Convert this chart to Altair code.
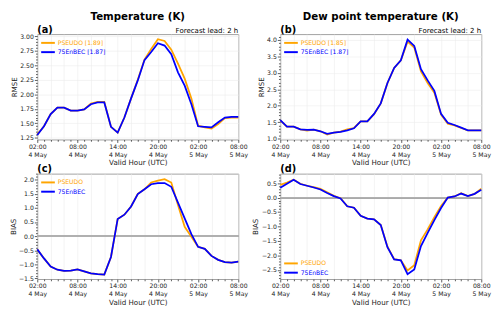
import altair as alt
import pandas as pd
import numpy as np

hours = list(range(31))
x_major_labels = ["02:00", "08:00", "14:00", "20:00"]

# (a) Temperature RMSE
a_pseudo = [1.31, 1.45, 1.66, 1.77, 1.77, 1.72, 1.72, 1.74, 1.84, 1.87, 1.87, 1.44, 1.34, 1.60, 1.93, 2.25,
            2.60, 2.78, 2.95, 2.92, 2.77, 2.53, 2.27, 1.93, 1.46, 1.43, 1.41, 1.49, 1.59, 1.60, 1.60]
a_enbec = [1.30, 1.45, 1.66, 1.77, 1.77, 1.72, 1.72, 1.74, 1.83, 1.86, 1.86, 1.44, 1.34, 1.60, 1.93, 2.24,
           2.59, 2.73, 2.88, 2.84, 2.69, 2.38, 2.15, 1.83, 1.45, 1.44, 1.43, 1.52, 1.60, 1.61, 1.61]
# (b) Dew point RMSE
b_pseudo = [1.55, 1.36, 1.36, 1.28, 1.24, 1.27, 1.22, 1.12, 1.18, 1.21, 1.28, 1.32, 1.52, 1.52, 1.74, 2.07,
            2.69, 3.15, 3.38, 3.95, 3.77, 3.04, 2.69, 2.39, 1.73, 1.45, 1.40, 1.32, 1.25, 1.25, 1.25]
b_enbec = [1.56, 1.36, 1.36, 1.28, 1.26, 1.27, 1.22, 1.14, 1.18, 1.20, 1.25, 1.31, 1.52, 1.52, 1.75, 2.07,
           2.69, 3.15, 3.38, 4.01, 3.82, 3.11, 2.77, 2.45, 1.75, 1.48, 1.41, 1.33, 1.25, 1.25, 1.25]
# (c) Temperature BIAS
c_pseudo = [-0.47, -0.79, -1.08, -1.19, -1.23, -1.22, -1.18, -1.25, -1.32, -1.35, -1.36, -0.74, 0.61, 0.76,
            1.05, 1.50, 1.66, 1.90, 1.97, 2.02, 1.90, 1.10, 0.33, -0.02, -0.38, -0.45, -0.70, -0.84, -0.92,
            -0.94, -0.90]
c_enbec = [-0.47, -0.79, -1.08, -1.19, -1.23, -1.22, -1.18, -1.25, -1.32, -1.35, -1.36, -0.74, 0.61, 0.76,
           1.05, 1.49, 1.66, 1.84, 1.88, 1.88, 1.75, 1.19, 0.63, 0.07, -0.38, -0.45, -0.70, -0.84, -0.92,
           -0.94, -0.90]
# (d) Dew point BIAS
d_pseudo = [0.44, 0.52, 0.62, 0.48, 0.41, 0.36, 0.30, 0.18, 0.06, -0.02, -0.30, -0.35, -0.63, -0.73, -0.75,
            -0.95, -1.70, -2.13, -2.17, -2.52, -2.34, -1.48, -1.10, -0.68, -0.29, 0.00, 0.04, 0.15, 0.05,
            0.13, 0.31]
d_enbec = [0.34, 0.48, 0.62, 0.47, 0.41, 0.35, 0.28, 0.16, 0.05, -0.03, -0.30, -0.35, -0.63, -0.73, -0.75,
           -0.95, -1.72, -2.14, -2.17, -2.65, -2.49, -1.68, -1.22, -0.78, -0.36, 0.00, 0.04, 0.14, 0.05,
           0.13, 0.27]

ORANGE = "#FFA500"
BLUE = "#0000FF"
W, H = 206, 108
FONT = "DejaVu Sans"


def y_axis(title, lo, hi, major, minor, fmt):
    factor = 1.0 / major
    vals = [float(v) for v in np.round(np.arange(np.ceil(lo / minor - 1e-9) * minor, hi + 1e-9, minor), 4)]
    test = "abs(datum.value*%g - round(datum.value*%g)) < 0.001" % (factor, factor)
    return alt.Axis(
        title=title, values=vals,
        labelExpr="%s ? format(datum.value, '%s') : ''" % (test, fmt),
        tickSize={"condition": {"test": test, "value": 3}, "value": 1.8},
        gridOpacity={"condition": {"test": test, "value": 1}, "value": 0},
        labelOverlap=False, labelFlush=False,
    )


x_axis = alt.Axis(
    title="Valid Hour (UTC)", values=hours,
    labelExpr="datum.value % 6 == 0 ? [['02:00','08:00','14:00','20:00'][(datum.value/6)%4], "
              "datum.value < 22 ? '4 May' : '5 May'] : ''",
    tickSize={"condition": {"test": "datum.value % 6 == 0", "value": 3}, "value": 1.8},
    gridOpacity={"condition": {"test": "datum.value % 2 == 0", "value": 1}, "value": 0},
    labelOverlap=False, labelFlush=False,
)


def text_layer(txt, x, y, align, size, weight="normal"):
    return alt.Chart(pd.DataFrame({"t": [txt]})).mark_text(
        align=align, baseline="alphabetic", fontSize=size, fontWeight=weight, font=FONT, color="black"
    ).encode(text="t:N", x=alt.value(x), y=alt.value(y))


def panel(pseudo, enbec, names, ytitle, ydom, major, minor, fmt, label,
          title=None, zero=False, legend_y=4):
    df = pd.DataFrame({
        "hour": hours * 2,
        "value": pseudo + enbec,
        "series": [names[0]] * len(hours) + [names[1]] * len(hours),
    })
    color = alt.Color(
        "series:N",
        scale=alt.Scale(domain=names, range=[ORANGE, BLUE]),
        legend=alt.Legend(
            title=None, orient="none", legendX=6, legendY=legend_y,
            symbolType="M-1.75,0H1.75", symbolSize=64, symbolStrokeWidth=2,
            labelFontSize=6.2, labelOffset=5, rowPadding=0.5, padding=0,
            labelColor=alt.ExprRef("datum.value == '%s' ? '%s' : '%s'" % (names[0], ORANGE, BLUE)),
        ),
    )
    yscale = alt.Scale(domain=ydom, nice=False, zero=False)
    yax = y_axis(ytitle, ydom[0], ydom[1], major, minor, fmt)
    x = alt.X("hour:Q", scale=alt.Scale(domain=[0, 30], nice=False, zero=False), axis=x_axis)
    y = alt.Y("value:Q", scale=yscale, axis=yax)
    base = alt.Chart(df)
    layers = []
    if zero:
        layers.append(base.mark_rule(color="#b0b0b0", strokeWidth=1).encode(
            y=alt.YDatum(0, scale=yscale, axis=yax)))
    layers.append(base.transform_filter(alt.datum.series == names[0])
                  .mark_line(strokeWidth=1.8).encode(x=x, y=y, color=color))
    layers.append(base.transform_filter(alt.datum.series == names[1])
                  .mark_line(strokeWidth=1.8).encode(x=x, y=y, color=color))
    layers.append(text_layer(label, 0, -1.5, "left", 10, "bold"))
    if title is not None:
        layers.append(text_layer("Forecast lead: 2 h", W, -1.5, "right", 7.2))
        layers.append(text_layer(title, W / 2, -14, "center", 10.5, "bold"))
    return alt.layer(*layers).properties(width=W, height=H)


pa = panel(a_pseudo, a_enbec, ["PSEUDO [1.89]", "75EnBEC [1.87]"], "RMSE", [1.222, 3.038],
           0.25, 0.05, ".2f", "(a)", title="Temperature (K)")
pb = panel(b_pseudo, b_enbec, ["PSEUDO [1.85]", "75EnBEC [1.87]"], "RMSE", [0.97, 4.18],
           0.5, 0.1, ".1f", "(b)", title="Dew point temperature (K)")
pc = panel(c_pseudo, c_enbec, ["PSEUDO", "75EnBEC"], "BIAS", [-1.52, 2.215],
           0.5, 0.1, ".1f", "(c)", zero=True)
pd_ = panel(d_pseudo, d_enbec, ["PSEUDO", "75EnBEC"], "BIAS", [-2.82, 0.83],
            0.5, 0.1, ".1f", "(d)", zero=True, legend_y=87)

chart = alt.concat(pa, pb, pc, pd_, columns=2, spacing={"row": 35, "column": 43}, bounds="flush") \
    .resolve_scale(color="independent").resolve_legend(color="independent") \
    .properties(padding=0) \
    .configure(font=FONT) \
    .configure_view(stroke="#a0a0a0", strokeWidth=1) \
    .configure_axis(domain=False, labelFontSize=6.3, labelColor="#222222", tickColor="#333333",
                    tickWidth=0.8, labelPadding=1, titleFontSize=7.3, titleFontWeight="normal",
                    titleColor="#222222", titlePadding=1.5, gridColor="#ececec", gridWidth=0.6,
                    labelFont=FONT, titleFont=FONT)

chart.save("out.html", embed_options={"renderer": "svg", "actions": False})
